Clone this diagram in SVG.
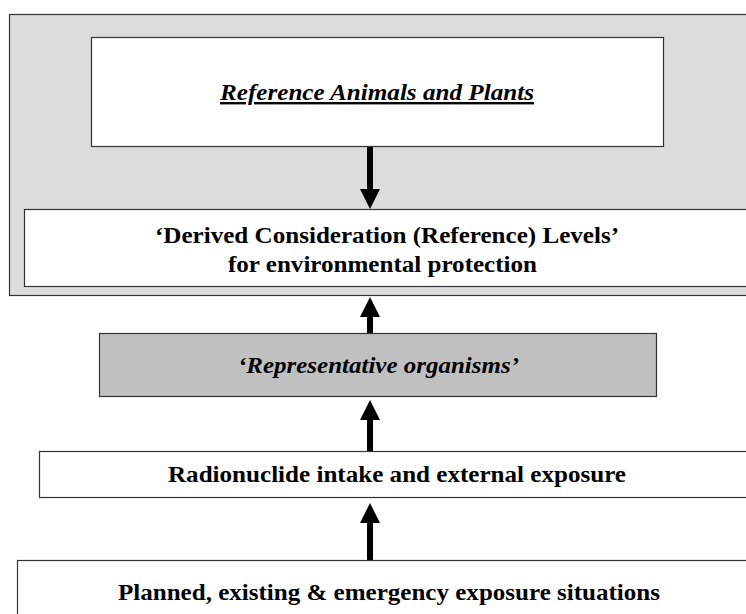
<svg xmlns="http://www.w3.org/2000/svg" width="746" height="614" viewBox="0 0 746 614">
<style>
.box{fill:#ffffff;stroke:#333333;stroke-width:1.2}
text{font-family:'Liberation Serif',Tinos,'Times New Roman',Times,serif;font-size:24px;fill:#000;text-anchor:middle}
.b{font-weight:bold}
.i{font-style:italic}
.conn line{stroke:#000;stroke-width:6}
</style>
<defs>
<marker id="ah" markerUnits="userSpaceOnUse" markerWidth="20" markerHeight="20" refX="1" refY="10" orient="auto">
<path d="M0,0 L20,10 L0,20 z" fill="#000"/>
</marker>
</defs>
<rect width="746" height="614" fill="#ffffff"/>
<g id="group-env">
<rect x="9.5" y="14.5" width="760" height="281" fill="#dcdcdc" stroke="#333333" stroke-width="1.2"/>
</g>
<g id="rap">
<rect class="box" x="91.5" y="37.5" width="572" height="109"/>
<text class="b i" x="377" y="100" textLength="314" lengthAdjust="spacingAndGlyphs" text-decoration="underline">Reference Animals and Plants</text>
</g>
<g id="dcrl">
<rect class="box" x="24.5" y="209.5" width="740" height="77"/>
<text class="b" x="387" y="243" textLength="464" lengthAdjust="spacingAndGlyphs">‘Derived Consideration (Reference) Levels’</text>
<text class="b" x="382.5" y="272" textLength="309" lengthAdjust="spacingAndGlyphs">for environmental protection</text>
</g>
<g id="repr">
<rect x="99.5" y="333.5" width="557" height="63" fill="#c0c0c0" stroke="#333333" stroke-width="1.2"/>
<text class="b i" x="378.5" y="373" textLength="281" lengthAdjust="spacingAndGlyphs">‘Representative organisms’</text>
</g>
<g id="intake">
<rect class="box" x="39.5" y="451.5" width="730" height="46"/>
<text class="b" x="397" y="482" textLength="458" lengthAdjust="spacingAndGlyphs">Radionuclide intake and external exposure</text>
</g>
<g id="situations">
<rect class="box" x="17.5" y="560.5" width="752" height="70"/>
<text class="b" x="389" y="600" textLength="542" lengthAdjust="spacingAndGlyphs">Planned, existing &amp; emergency exposure situations</text>
</g>
<g class="conn">
<line x1="370" y1="147" x2="370" y2="190" marker-end="url(#ah)"/>
<line x1="370" y1="333" x2="370" y2="316" marker-end="url(#ah)"/>
<line x1="370" y1="451" x2="370" y2="419" marker-end="url(#ah)"/>
<line x1="370" y1="560" x2="370" y2="522" marker-end="url(#ah)"/>
</g>
</svg>
